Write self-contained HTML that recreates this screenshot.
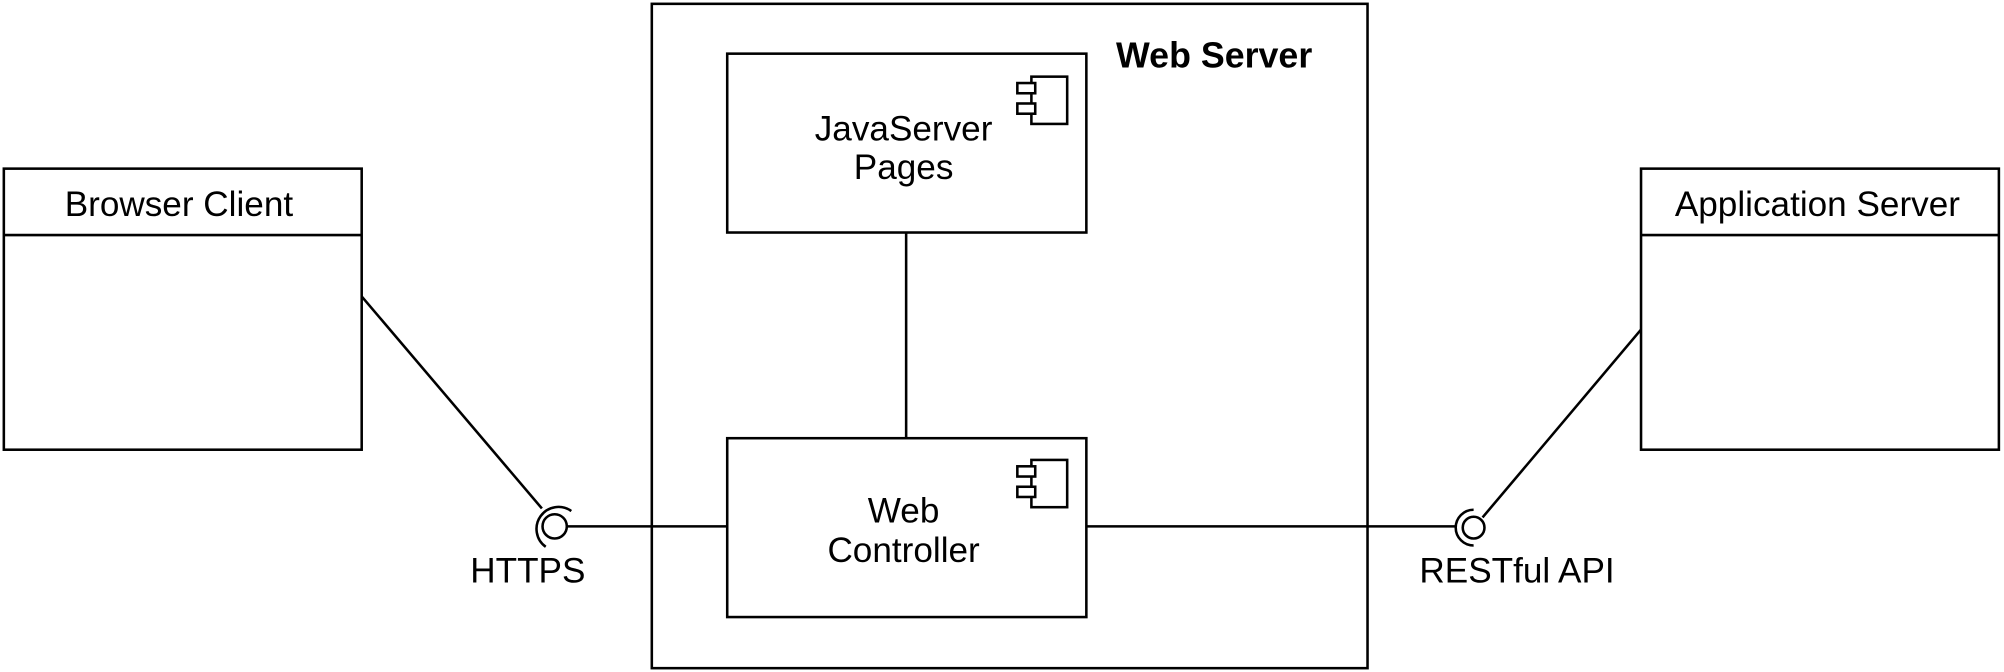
<!DOCTYPE html>
<html><head><meta charset="utf-8"><style>
html,body{margin:0;padding:0;background:#fff;}
svg{display:block;}
text{font-family:"Liberation Sans",sans-serif;fill:#000;}
</style></head><body>
<svg width="2004" height="672" viewBox="0 0 1568 526" preserveAspectRatio="none" xmlns="http://www.w3.org/2000/svg">
<g fill="none" stroke="#000" stroke-width="2">
<rect x="510" y="3" width="560" height="520"/>
<rect x="569" y="42" width="281" height="140"/>
<rect x="569" y="343" width="281" height="140"/>
<line x1="709" y1="182" x2="709" y2="343"/>
<rect x="3" y="132" width="280" height="220"/>
<line x1="3" y1="184" x2="283" y2="184"/>
<rect x="1284" y="132" width="280" height="220"/>
<line x1="1284" y1="184" x2="1564" y2="184"/>
<rect x="807" y="60" width="28" height="37"/>
<rect x="796" y="65" width="14" height="8" fill="#fff"/>
<rect x="796" y="81" width="14" height="8" fill="#fff"/>
<rect x="807" y="360" width="28" height="37"/>
<rect x="796" y="365" width="14" height="8" fill="#fff"/>
<rect x="796" y="381" width="14" height="8" fill="#fff"/>
<line x1="283" y1="232" x2="424" y2="398"/>
<circle cx="434" cy="412" r="9.5"/>
<path d="M 447 400 A 17 17 0 1 0 427 428"/>
<line x1="444" y1="412" x2="569" y2="412"/>
<line x1="850" y1="412" x2="1139" y2="412"/>
<circle cx="1153" cy="413" r="8.5"/>
<path d="M 1153 399 A 14 14 0 0 0 1153 427"/>
<line x1="1284" y1="258" x2="1160" y2="405"/>
</g>
<text x="950" y="53" font-size="28" font-weight="bold" text-anchor="middle">Web Server</text>
<text x="707" y="110" font-size="27.5" text-anchor="middle">JavaServer</text>
<text x="707" y="140" font-size="27.5" text-anchor="middle">Pages</text>
<text x="707" y="409" font-size="27.5" text-anchor="middle">Web</text>
<text x="707" y="440" font-size="27.5" text-anchor="middle">Controller</text>
<text x="140" y="169" font-size="27.5" text-anchor="middle">Browser Client</text>
<text x="1422" y="169" font-size="27.5" text-anchor="middle">Application Server</text>
<text x="413" y="456" font-size="27.5" text-anchor="middle">HTTPS</text>
<text x="1187" y="456" font-size="27.5" text-anchor="middle">RESTful API</text>
</svg>
</body></html>
